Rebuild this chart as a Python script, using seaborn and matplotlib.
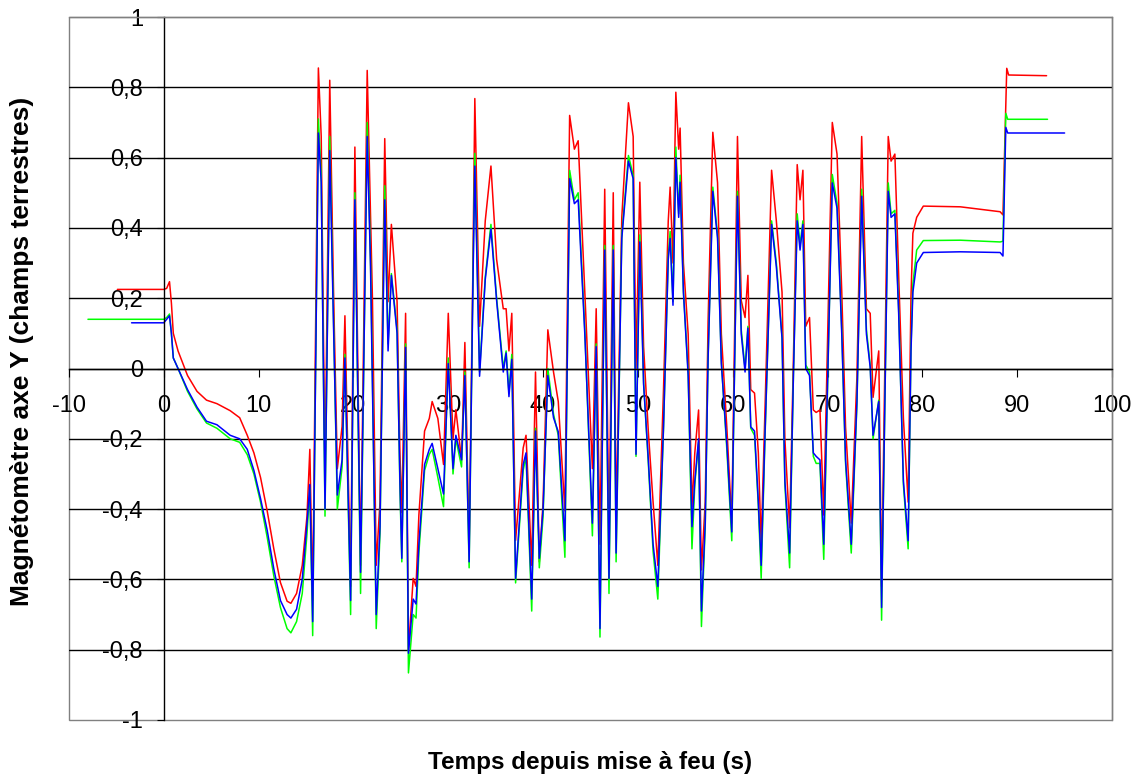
import matplotlib
matplotlib.use('Agg')
from matplotlib import pyplot as plt
import pandas as pd
import seaborn as sns

# Graduations des axes
x_ticks = [-10, 0, 10, 20, 30, 40, 50, 60, 70, 80, 90, 100]
x_labels = ['-10', '0', '10', '20', '30', '40', '50', '60', '70', '80', '90', '100']
y_ticks = [-1, -0.8, -0.6, -0.4, -0.2, 0, 0.2, 0.4, 0.6, 0.8, 1]
y_labels = ['-1', '-0,8', '-0,6', '-0,4', '-0,2', '0', '0,2', '0,4', '0,6', '0,8', '1']

# Avant la mise a feu (plateaux)
t_avant_rouge = [-4.9, 0.0]
mag_avant_rouge = [0.225, 0.225]
t_avant_vert = [-8.0, 0.0]
mag_avant_vert = [0.14, 0.14]
t_avant_bleu = [-3.4, 0.0]
mag_avant_bleu = [0.13, 0.13]

# Pendant le vol (temps communs aux trois courbes)
t_vol = [0.3, 0.6, 0.8, 1.0, 1.5, 2.5, 3.5, 4.5, 5.6, 7.0,
         8.0, 8.8, 9.5, 10.2, 10.9, 11.6, 12.3, 13.0, 13.4, 14.0,
         14.6, 15.1, 15.4, 15.7, 16.3, 16.6, 17.0, 17.5, 17.9, 18.3,
         18.8, 19.1, 19.7, 20.15, 20.75, 21.45, 21.8, 22.0, 22.4, 22.8,
         23.3, 23.65, 24.0, 24.6, 24.9, 25.1, 25.5, 25.8, 26.3, 26.6,
         26.9, 27.5, 28.0, 28.3, 28.9, 29.5, 30.0, 30.5, 30.8, 31.4,
         31.75, 32.2, 32.6, 32.8, 33.3, 33.9, 34.5, 35.1, 35.8, 36.1,
         36.4, 36.7, 37.1, 37.9, 38.2, 38.8, 39.2, 39.6, 40.0, 40.5,
         41.1, 41.6, 42.3, 42.8, 43.3, 43.7, 44.4, 45.2, 45.6, 46.0,
         46.5, 46.95, 47.4, 47.7, 48.3, 49.0, 49.5, 49.8, 50.2, 50.6,
         51.1, 51.6, 52.1, 52.7, 53.2, 53.4, 53.7, 54.0, 54.3, 54.45,
         54.8, 55.3, 55.7, 56.0, 56.4, 56.7, 57.1, 57.4, 57.9, 58.4,
         58.8, 59.4, 59.9, 60.5, 60.9, 61.3, 61.6, 61.9, 62.3, 62.7,
         63.0, 63.4, 64.1, 64.6, 65.2, 65.5, 66.0, 66.4, 66.8, 67.1,
         67.4, 67.7, 68.1, 68.5, 68.8, 69.2, 69.6, 70.5, 71.0, 71.5,
         71.9, 72.5, 73.1, 73.6, 74.1, 74.5, 74.8, 75.4, 75.7, 76.4,
         76.7, 77.1, 77.5, 78.0, 78.5, 78.8, 79.0, 79.4, 80.1, 84.0,
         88.2, 88.5]

mag_vol_rouge = [0.228, 0.247, 0.186, 0.10, 0.05, -0.02, -0.065, -0.09, -0.10, -0.12,
                 -0.14, -0.19, -0.24, -0.31, -0.405, -0.513, -0.609, -0.662, -0.668, -0.64,
                 -0.56, -0.42, -0.23, -0.66, 0.855, 0.66, -0.30, 0.82, 0.22, -0.285,
                 -0.165, 0.15, -0.62, 0.63, -0.56, 0.848, 0.43, 0.20, -0.56, -0.38,
                 0.654, 0.19, 0.41, 0.19, -0.24, -0.41, 0.157, -0.80, -0.597, -0.62,
                 -0.417, -0.178, -0.142, -0.094, -0.142, -0.273, 0.157, -0.20, -0.117, -0.26,
                 0.074, -0.50, 0.29, 0.768, 0.12, 0.42, 0.576, 0.31, 0.17, 0.17,
                 0.05, 0.157, -0.489, -0.226, -0.19, -0.56, -0.01, -0.55, -0.38, 0.11,
                 -0.01, -0.094, -0.405, 0.72, 0.624, 0.648, 0.217, -0.285, 0.17, -0.50,
                 0.51, -0.49, 0.50, -0.44, 0.43, 0.756, 0.66, 0.0, 0.53, 0.062,
                 -0.18, -0.38, -0.56, -0.06, 0.42, 0.516, 0.30, 0.786, 0.624, 0.684,
                 0.30, 0.098, -0.393, -0.24, -0.118, -0.573, -0.38, 0.133, 0.672, 0.528,
                 0.098, -0.178, -0.44, 0.66, 0.193, 0.145, 0.265, -0.06, -0.07, -0.24,
                 -0.50, -0.118, 0.564, 0.42, 0.217, -0.20, -0.453, 0.026, 0.58, 0.48,
                 0.564, 0.12, 0.145, -0.118, -0.125, -0.118, -0.417, 0.70, 0.61, 0.217,
                 -0.166, -0.44, -0.022, 0.66, 0.17, 0.157, -0.082, 0.05, -0.62, 0.66,
                 0.59, 0.61, 0.265, -0.142, -0.38, 0.205, 0.385, 0.43, 0.462, 0.46,
                 0.446, 0.437]

mag_vol_vert = [0.145, 0.155, 0.10, 0.03, 0.0, -0.065, -0.115, -0.155, -0.17, -0.20,
                -0.21, -0.245, -0.30, -0.38, -0.48, -0.59, -0.68, -0.74, -0.752, -0.72,
                -0.64, -0.47, -0.34, -0.76, 0.71, 0.55, -0.42, 0.66, 0.14, -0.40,
                -0.28, 0.04, -0.70, 0.50, -0.64, 0.70, 0.31, -0.02, -0.74, -0.47,
                0.52, 0.07, 0.27, 0.11, -0.34, -0.55, 0.07, -0.866, -0.70, -0.71,
                -0.525, -0.29, -0.244, -0.23, -0.31, -0.393, 0.03, -0.30, -0.20, -0.28,
                -0.01, -0.567, 0.25, 0.612, -0.01, 0.26, 0.41, 0.20, 0.0, 0.05,
                -0.07, 0.04, -0.61, -0.29, -0.25, -0.69, -0.17, -0.567, -0.42, 0.0,
                -0.13, -0.19, -0.537, 0.564, 0.48, 0.50, 0.11, -0.476, 0.07, -0.764,
                0.35, -0.64, 0.35, -0.55, 0.38, 0.606, 0.55, -0.25, 0.38, -0.04,
                -0.27, -0.52, -0.656, -0.17, 0.32, 0.39, 0.19, 0.63, 0.44, 0.55,
                0.22, -0.01, -0.513, -0.33, -0.21, -0.734, -0.45, 0.03, 0.516, 0.38,
                0.02, -0.24, -0.49, 0.504, 0.11, 0.0, 0.12, -0.17, -0.19, -0.39,
                -0.597, -0.20, 0.42, 0.30, 0.09, -0.33, -0.567, -0.02, 0.44, 0.35,
                0.42, 0.01, -0.01, -0.25, -0.27, -0.27, -0.543, 0.552, 0.47, 0.11,
                -0.27, -0.525, -0.10, 0.51, 0.11, 0.01, -0.20, -0.09, -0.716, 0.528,
                0.44, 0.45, 0.17, -0.33, -0.513, 0.06, 0.241, 0.337, 0.364, 0.365,
                0.36, 0.362]

mag_vol_bleu = [0.14, 0.15, 0.10, 0.03, 0.0, -0.06, -0.11, -0.15, -0.16, -0.19,
                -0.20, -0.23, -0.29, -0.37, -0.46, -0.57, -0.66, -0.70, -0.71, -0.685,
                -0.60, -0.44, -0.33, -0.72, 0.67, 0.53, -0.40, 0.62, 0.12, -0.36,
                -0.26, 0.03, -0.66, 0.48, -0.58, 0.66, 0.29, -0.05, -0.70, -0.45,
                0.48, 0.05, 0.265, 0.10, -0.32, -0.54, 0.06, -0.81, -0.656, -0.67,
                -0.50, -0.273, -0.23, -0.213, -0.285, -0.357, 0.014, -0.285, -0.19, -0.26,
                -0.02, -0.55, 0.24, 0.576, -0.022, 0.253, 0.397, 0.193, -0.01, 0.044,
                -0.08, 0.026, -0.597, -0.273, -0.24, -0.656, -0.178, -0.54, -0.40, -0.02,
                -0.14, -0.18, -0.49, 0.54, 0.469, 0.48, 0.098, -0.44, 0.062, -0.74,
                0.337, -0.597, 0.337, -0.525, 0.37, 0.59, 0.54, -0.244, 0.36, -0.045,
                -0.26, -0.50, -0.62, -0.166, 0.31, 0.37, 0.18, 0.60, 0.43, 0.53,
                0.217, -0.02, -0.45, -0.32, -0.20, -0.69, -0.44, 0.026, 0.504, 0.37,
                0.014, -0.226, -0.465, 0.49, 0.098, -0.01, 0.115, -0.166, -0.178, -0.38,
                -0.56, -0.19, 0.41, 0.29, 0.086, -0.32, -0.525, -0.02, 0.42, 0.337,
                0.41, 0.0, -0.02, -0.24, -0.25, -0.26, -0.50, 0.528, 0.456, 0.098,
                -0.26, -0.50, -0.094, 0.49, 0.098, 0.003, -0.19, -0.094, -0.68, 0.504,
                0.43, 0.44, 0.157, -0.32, -0.49, 0.05, 0.217, 0.30, 0.33, 0.332,
                0.33, 0.32]

# Apres le saut final (plateaux)
t_fin_rouge = [88.9, 89.1, 93.1]
mag_fin_rouge = [0.854, 0.835, 0.833]
t_fin_vert = [88.8, 89.0, 93.2]
mag_fin_vert = [0.726, 0.709, 0.709]
t_fin_bleu = [88.8, 89.0, 95.0]
mag_fin_bleu = [0.686, 0.67, 0.67]

couleurs = {'rouge': '#FF0000', 'vert': '#00FF00', 'bleu': '#0000FF'}


def serie(nom, t_a, m_a, m_vol, t_f, m_f):
    return pd.DataFrame({'temps': t_a + t_vol + t_f,
                         'mag': m_a + m_vol + m_f,
                         'serie': nom})


df = pd.concat([
    serie('rouge', t_avant_rouge, mag_avant_rouge, mag_vol_rouge, t_fin_rouge, mag_fin_rouge),
    serie('vert', t_avant_vert, mag_avant_vert, mag_vol_vert, t_fin_vert, mag_fin_vert),
    serie('bleu', t_avant_bleu, mag_avant_bleu, mag_vol_bleu, t_fin_bleu, mag_fin_bleu),
], ignore_index=True)

sns.set_style('white')
plt.rcParams['font.family'] = ['Liberation Sans', 'DejaVu Sans']
plt.rcParams['text.color'] = 'black'
plt.rcParams['axes.labelcolor'] = 'black'

fig, ax = plt.subplots(figsize=(11.44, 7.78), dpi=100)
fig.subplots_adjust(left=69 / 1144, right=1112 / 1144, bottom=1 - 720 / 778, top=1 - 17 / 778)

# Lignes horizontales de la grille (sans les bords)
for v in y_ticks[1:-1]:
    ax.axhline(v, color='black', lw=1.0, zorder=0.5)

sns.lineplot(data=df, x='temps', y='mag', hue='serie', hue_order=['rouge', 'vert', 'bleu'],
             palette=couleurs, estimator=None, sort=False, legend=False, lw=1.1, ax=ax, zorder=2)

ax.set_xlim(-10, 100)
ax.set_ylim(-1, 1)
ax.set_xticks(x_ticks)
ax.set_xticklabels(x_labels)
ax.set_yticks(y_ticks)
ax.set_yticklabels(y_labels)

# Axes qui se croisent en (0, 0) comme dans Excel
ax.spines['left'].set_position(('data', 0))
ax.spines['bottom'].set_position(('data', 0))
for s in ['left', 'bottom']:
    ax.spines[s].set_color('black')
    ax.spines[s].set_linewidth(1.0)
for s in ['top', 'right']:
    ax.spines[s].set_color('#808080')
    ax.spines[s].set_linewidth(1.0)
ax.patch.set_edgecolor('#808080')
ax.patch.set_linewidth(1.0)

ax.tick_params(axis='x', direction='out', length=6, width=0.8, pad=13, labelsize=17,
               colors='black', bottom=True)
ax.tick_params(axis='y', direction='out', length=5, width=0.8, pad=10, labelsize=17,
               colors='black', left=True)

ax.set_xlabel('Temps depuis mise à feu (s)', fontsize=17.5, fontweight='bold', color='black')
ax.set_ylabel('Magnétomètre axe Y (champs terrestres)', fontsize=19, fontweight='bold',
              color='black')
ax.xaxis.set_label_coords(0.5, (720 - 763) / 703)
ax.xaxis.label.set_va('center')
ax.yaxis.set_label_coords((22 - 69) / 1043, (720 - 351) / 703)
ax.yaxis.label.set_va('center')

fig.savefig('out.png', dpi=100)
